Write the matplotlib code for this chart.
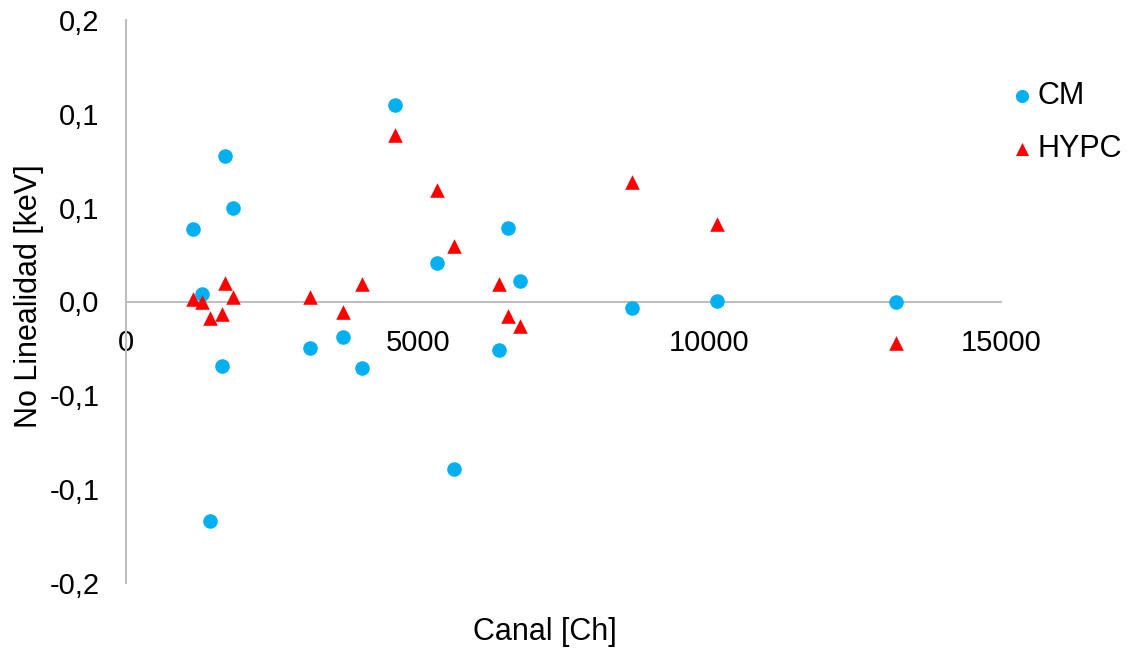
import numpy as np
import matplotlib.pyplot as plt

plt.rcParams['font.family'] = ['Liberation Sans', 'DejaVu Sans']

canal = [1154, 1308, 1440, 1641, 1697, 1829, 3159, 3725, 4051, 4617,
         5331, 5618, 6389, 6554, 6749, 8679, 10126, 13205]
cm = [0.0387, 0.0040, -0.1167, -0.0346, 0.0774, 0.0498, -0.0248, -0.0188, -0.0353, 0.1045,
      0.0207, -0.0891, -0.0259, 0.0390, 0.0109, -0.0033, 0.0001, -0.0005]
hypc = [0.0015, -0.0005, -0.0088, -0.0067, 0.0098, 0.0024, 0.0024, -0.0056, 0.0093, 0.0889,
        0.0596, 0.0294, 0.0093, -0.0077, -0.0129, 0.0637, 0.0415, -0.0220]

xticks = [0, 5000, 10000, 15000]
yticks = [-0.15, -0.10, -0.05, 0.0, 0.05, 0.10, 0.15]
ylabels = ['-0,2', '-0,1', '-0,1', '0,0', '0,1', '0,1', '0,2']

fig = plt.figure(figsize=(11.33, 6.51), dpi=100)
ax = fig.add_axes([126/1133, 68/651, 875/1133, 563/651])

ax.scatter(canal, cm, s=110, marker='o', color='#00B0F0', label='CM', zorder=3, linewidths=0)
ax.scatter(canal, hypc, s=110, marker='^', color='#FF0000', label='HYPC', zorder=3, linewidths=0)

ax.set_xlim(0, 15000)
ax.set_ylim(-0.15, 0.15)
ax.set_xticks(xticks)
ax.set_xticklabels([str(v) for v in xticks])
ax.set_yticks(yticks)
ax.set_yticklabels(ylabels)

ax.spines['top'].set_visible(False)
ax.spines['right'].set_visible(False)
ax.spines['bottom'].set_position(('data', 0))
for s in ['left', 'bottom']:
    ax.spines[s].set_color('#BFBFBF')
    ax.spines[s].set_linewidth(1.5)
ax.tick_params(axis='x', length=0, pad=20, labelsize=21)
ax.tick_params(axis='y', length=0, pad=19, labelsize=21)

ax.set_xlabel('Canal [Ch]', fontsize=22)
ax.xaxis.set_label_coords(0.479, -0.087)
ax.xaxis.label.set_verticalalignment('center')
ax.set_ylabel('No Linealidad [keV]', fontsize=22)
ax.yaxis.set_label_coords(-0.111, 0.51)
ax.yaxis.label.set_verticalalignment('center')

ax.legend(loc='upper left', bbox_to_anchor=(979/1133, 1 - 54/651), bbox_transform=fig.transFigure,
          frameon=False, fontsize=22, handletextpad=0.0, labelspacing=0.75, handlelength=1.0,
          markerscale=0.9)

fig.savefig('out.png', dpi=100)
